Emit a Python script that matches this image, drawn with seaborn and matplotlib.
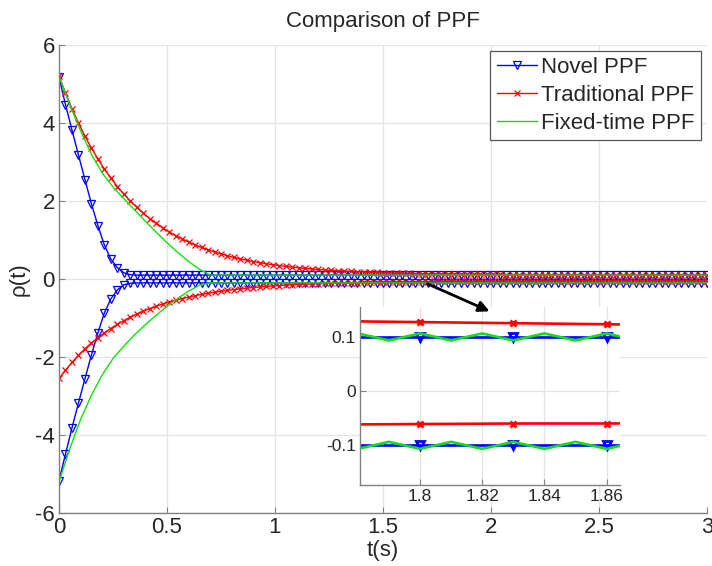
import numpy as np
import matplotlib
matplotlib.use('Agg')
import matplotlib.pyplot as plt
import seaborn as sns

# ── data ────────────────────────────────────────────────────────────────────
# Novel and traditional PPF are sampled every 0.03 s (one marker per sample)
t_ppf = np.round(np.arange(101) * 0.03, 2)

novel_up = [5.18, 4.47, 3.82, 3.18, 2.55, 1.93, 1.37, 0.87, 0.51, 0.29,
            0.16, 0.11] + [0.10] * 89
novel_lo = [-5.18, -4.49, -3.82, -3.18, -2.56, -1.95, -1.38, -0.87, -0.51,
            -0.28, -0.15, -0.11] + [-0.10] * 89

trad_up = [5.20, 4.77, 4.37, 4.00, 3.66, 3.36, 3.08, 2.82, 2.59, 2.37,
           2.18, 2.00, 1.84, 1.69, 1.55, 1.43, 1.31, 1.21, 1.11, 1.03,
           0.948, 0.876, 0.809, 0.749, 0.693, 0.643, 0.596, 0.554, 0.516, 0.480,
           0.448, 0.418, 0.391, 0.367, 0.344, 0.324, 0.305, 0.288, 0.272, 0.257,
           0.244, 0.232, 0.221, 0.212, 0.202, 0.194, 0.186, 0.179, 0.173, 0.167,
           0.162, 0.157, 0.152, 0.148, 0.145, 0.141, 0.138, 0.135, 0.133, 0.130,
           0.128, 0.126, 0.124, 0.122, 0.121, 0.120, 0.118, 0.117, 0.116, 0.115,
           0.114, 0.114, 0.113, 0.112, 0.112, 0.111, 0.111, 0.110, 0.110, 0.109,
           0.109, 0.108, 0.108, 0.108, 0.107, 0.107, 0.107, 0.107, 0.107, 0.106,
           0.106, 0.106, 0.106, 0.106, 0.106, 0.106, 0.106, 0.106, 0.106, 0.106,
           0.106]
trad_lo = [-2.55, -2.34, -2.14, -1.96, -1.79, -1.64, -1.51, -1.38, -1.27, -1.16,
           -1.07, -0.979, -0.899, -0.826, -0.759, -0.698, -0.642, -0.591, -0.545, -0.502,
           -0.463, -0.428, -0.395, -0.366, -0.338, -0.314, -0.291, -0.270, -0.251, -0.234,
           -0.218, -0.204, -0.190, -0.178, -0.167, -0.157, -0.148, -0.140, -0.132, -0.125,
           -0.118, -0.113, -0.107, -0.102, -0.098, -0.094, -0.090, -0.087, -0.083, -0.081,
           -0.078, -0.076, -0.073, -0.071, -0.070, -0.068, -0.066, -0.065, -0.064, -0.062,
           -0.061, -0.060, -0.060, -0.059, -0.058, -0.057, -0.057, -0.056, -0.056, -0.055,
           -0.055, -0.054, -0.054, -0.054, -0.053, -0.053, -0.053, -0.052, -0.052, -0.052,
           -0.052, -0.051, -0.051, -0.051, -0.051, -0.051, -0.051, -0.051, -0.051, -0.051,
           -0.051, -0.051, -0.051, -0.051, -0.050, -0.050, -0.050, -0.050, -0.050, -0.050,
           -0.050]

# Fixed-time PPF: smooth decay, then chattering around +-0.1 (seen in the inset)
green_t = [0.00, 0.05, 0.10, 0.15, 0.20, 0.25, 0.30, 0.35, 0.40, 0.45,
           0.50, 0.55, 0.60, 0.65, 0.70,
           0.80, 0.90, 1.00, 1.10, 1.20, 1.30, 1.40, 1.50, 1.60, 1.70,
           1.76, 1.77, 1.78, 1.79, 1.80, 1.81, 1.82, 1.83, 1.84, 1.85,
           1.86, 1.87, 1.88,
           1.90, 2.00, 2.10, 2.20, 2.30, 2.40, 2.50, 2.60, 2.70, 2.80,
           2.90, 3.00]
green_up = [5.20, 4.47, 3.80, 3.20, 2.72, 2.36, 2.06, 1.77, 1.48, 1.20,
            0.93, 0.68, 0.45, 0.25, 0.10,
            0.10, 0.10, 0.10, 0.10, 0.10, 0.10, 0.10, 0.10, 0.10, 0.10,
            0.107, 0.094, 0.107, 0.094, 0.107, 0.094, 0.107, 0.094, 0.107, 0.094,
            0.107, 0.094, 0.107,
            0.10, 0.10, 0.10, 0.10, 0.10, 0.10, 0.10, 0.10, 0.10, 0.10,
            0.10, 0.10]
green_lo = [-5.20, -4.35, -3.60, -2.98, -2.46, -2.04, -1.72, -1.43, -1.17, -0.93,
            -0.70, -0.50, -0.31, -0.16, -0.10,
            -0.10, -0.10, -0.10, -0.10, -0.10, -0.10, -0.10, -0.10, -0.10, -0.10,
            -0.107, -0.094, -0.107, -0.094, -0.107, -0.094, -0.107, -0.094, -0.107, -0.094,
            -0.107, -0.094, -0.107,
            -0.10, -0.10, -0.10, -0.10, -0.10, -0.10, -0.10, -0.10, -0.10, -0.10,
            -0.10, -0.10]

series = [
    (t_ppf, novel_up, novel_lo, '#0000ff', 'v', 'Novel PPF'),
    (t_ppf, trad_up, trad_lo, '#ff0000', 'x', 'Traditional PPF'),
    (green_t, green_up, green_lo, '#10e010', None, 'Fixed-time PPF'),
]

sns.set_style('white')
plt.rcParams['font.family'] = ['Liberation Sans', 'DejaVu Sans']
plt.rcParams['axes.unicode_minus'] = False

GRID = '#e4e4e4'
SPINE = '#808080'


def draw(axis, lw, ms, mew, labelled):
    for t, up, lo, col, mk, name in series:
        kw = dict(color=col, linewidth=lw, ax=axis, legend=False)
        if mk:
            size = ms if mk == 'v' else ms * 0.8
            kw.update(marker=mk, markersize=size, markerfacecolor='none',
                      markeredgecolor=col, markeredgewidth=mew)
        sns.lineplot(x=t, y=up, label=name if labelled else None, **kw)
        sns.lineplot(x=t, y=lo, **kw)


def style(axis, size):
    for side in ['top', 'right']:
        axis.spines[side].set_visible(False)
    for side in ['left', 'bottom']:
        axis.spines[side].set_color(SPINE)
        axis.spines[side].set_linewidth(1.0)
    axis.grid(True, color=GRID, linewidth=0.9)
    axis.set_axisbelow(True)
    axis.tick_params(direction='in', length=4, color=SPINE, labelsize=size,
                     left=True, bottom=True, pad=3)


fig = plt.figure(figsize=(7.12, 5.66), dpi=100)

# ── main axes ────────────────────────────────────────────────────────────────
ax = fig.add_axes([59 / 712, 53 / 566, 648 / 712, 468 / 566])
draw(ax, lw=1.0, ms=5.5, mew=0.9, labelled=True)
ax.set_xlim(0, 3)
ax.set_ylim(-6, 6)
ax.set_xticks([0, 0.5, 1, 1.5, 2, 2.5, 3])
ax.set_xticklabels(['0', '0.5', '1', '1.5', '2', '2.5', '3'])
ax.set_yticks([-6, -4, -2, 0, 2, 4, 6])
style(ax, 16)
ax.set_xlabel('t(s)', fontsize=16, labelpad=1)
ax.set_ylabel('ρ(t)', fontsize=16, labelpad=4)
ax.set_title('Comparison of PPF', fontsize=16, pad=13)

handles, labels = ax.get_legend_handles_labels()
leg = ax.legend(handles, labels, loc='upper right', fontsize=16, numpoints=1,
                handlelength=1.8, handletextpad=0.2, labelspacing=0.3,
                borderpad=0.3, borderaxespad=0.25, fancybox=False,
                framealpha=1, edgecolor='#555555')
leg.get_frame().set_linewidth(0.9)

# ── inset zoom ───────────────────────────────────────────────────────────────
ax2 = fig.add_axes([360 / 712, 81 / 566, 260 / 712, 178 / 566])
ax2.set_facecolor('white')
draw(ax2, lw=1.9, ms=6, mew=2.0, labelled=False)
ax2.set_xlim(1.7807, 1.8643)
ax2.set_ylim(-0.174, 0.156)
ax2.set_xticks([1.8, 1.82, 1.84, 1.86])
ax2.set_xticklabels(['1.8', '1.82', '1.84', '1.86'])
ax2.set_yticks([-0.1, 0, 0.1])
ax2.set_yticklabels(['-0.1', '0', '0.1'])
style(ax2, 12.5)
ax2.set_xlabel('')
ax2.set_ylabel('')

ax2.annotate('', xy=(2.005, -0.857), xycoords=ax.transData,
             xytext=(1.694, -0.094), textcoords=ax.transData,
             annotation_clip=False,
             arrowprops=dict(arrowstyle='-|>', color='black', lw=2,
                             mutation_scale=16))

fig.savefig('out.png', dpi=100)
